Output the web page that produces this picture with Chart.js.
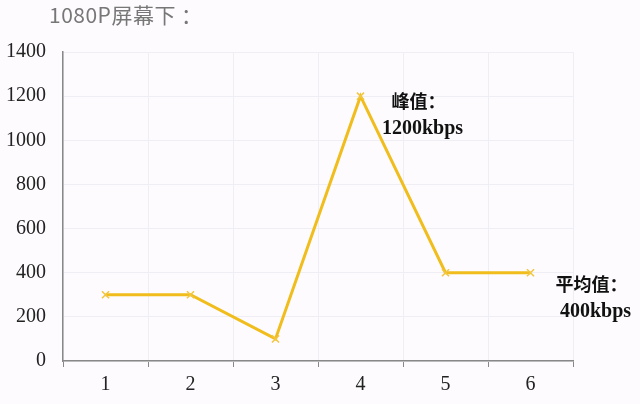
<!DOCTYPE html>
<html>
<head>
<meta charset="utf-8">
<script src="https://cdn.jsdelivr.net/npm/chart.js@4"></script>
<style>
  html, body { margin: 0; padding: 0; background: #fdfbfd; }
  #wrap { position: relative; width: 640px; height: 404px; }
  #title { position: absolute; left: 49px; top: -1px; font: 21px "Noto Sans CJK SC", "Noto Sans", sans-serif; color: #777; letter-spacing: 0.5px; }
</style>
</head>
<body>
<div id="wrap">
  <div id="title">1080P屏幕下 ：</div>
  <canvas id="chart" width="640" height="404"></canvas>
</div>
<script>
const categories = ['1', '2', '3', '4', '5', '6'];
const bitrate = [300, 300, 100, 1200, 400, 400];
const yTicks = [0, 200, 400, 600, 800, 1000, 1200, 1400];

// 标注文字
const notes = [
    { index: 3, lines: ['峰值：', '1200kbps'], dx: 58, dy: 5 },
    { index: 5, lines: ['平均值：', '400kbps'], dx: 61, dy: 11 }
];

const notePlugin = {
    id: 'notes',
    afterDatasetsDraw(chart) {
        const ctx = chart.ctx;
        const meta = chart.getDatasetMeta(0);
        ctx.save();
        ctx.fillStyle = '#111';
        ctx.textAlign = 'center';
        ctx.textBaseline = 'middle';
        notes.forEach(n => {
            const p = meta.data[n.index];
            ctx.font = 'bold 18px "Noto Sans CJK SC", sans-serif';
            ctx.fillText(n.lines[0], p.x + n.dx, p.y + n.dy);
            ctx.font = 'bold 20px "Liberation Serif", serif';
            ctx.fillText(n.lines[1], p.x + n.dx + 4, p.y + n.dy + 28);
        });
        ctx.restore();
    }
};

new Chart(document.getElementById('chart'), {
    type: 'line',
    data: {
        labels: categories,
        datasets: [{
            data: bitrate,
            borderColor: '#f0bd1c',
            borderWidth: 3,
            pointStyle: 'crossRot',
            pointRadius: 5,
            pointBorderColor: '#f3c640',
            pointBorderWidth: 1.5,
            tension: 0
        }]
    },
    options: {
        responsive: false,
        animation: false,
        layout: { padding: { left: 0, right: 67, top: 52, bottom: 0 } },
        plugins: { legend: { display: false }, tooltip: { enabled: false } },
        scales: {
            x: {
                offset: true,
                grid: { offset: true, color: '#efeef4', tickColor: '#888', tickLength: 6 },
                border: { color: '#888', width: 1.5 },
                ticks: { color: '#222', padding: 6, font: { family: '"Liberation Serif", serif', size: 20 } },
                afterFit(scale) { scale.height = 43; }
            },
            y: {
                min: 0,
                max: 1400,
                afterBuildTicks(scale) { scale.ticks = yTicks.map(v => ({ value: v })); },
                grid: { color: '#efeef4', tickLength: 0 },
                border: { color: '#888', width: 1.5 },
                ticks: {
                    color: '#222', padding: 17,
                    font: { family: '"Liberation Serif", serif', size: 20 },
                    callback: v => String(v)
                },
                afterFit(scale) { scale.width = 63; }
            }
        }
    },
    plugins: [notePlugin]
});
</script>
</body>
</html>
